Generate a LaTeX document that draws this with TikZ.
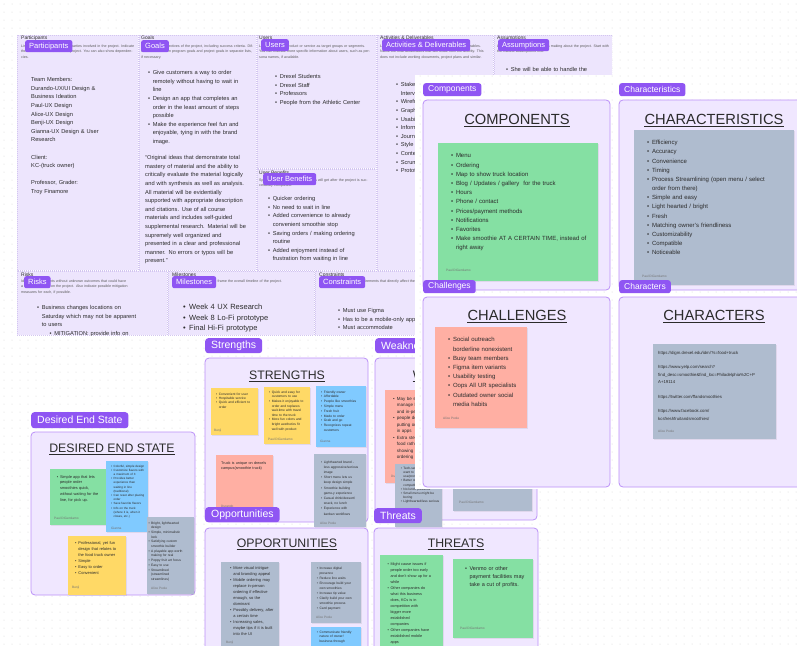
\documentclass[tikz,border=0pt]{standalone}
\usepackage{fontspec}
\setmainfont{Liberation Sans}
\usetikzlibrary{shadows}
\definecolor{cellc}{HTML}{EDE5FD}
\definecolor{celll}{HTML}{D3C6F0}
\definecolor{tagc}{HTML}{8F55F3}
\definecolor{frmc}{HTML}{F0E7FF}
\definecolor{frml}{HTML}{BB90F8}
\definecolor{ngreen}{HTML}{85E0A3}
\definecolor{nblue}{HTML}{80CAFF}
\definecolor{nyel}{HTML}{FFD966}
\definecolor{nsal}{HTML}{FFAFA3}
\definecolor{ngray}{HTML}{AFBCCF}
\definecolor{ink}{HTML}{2B2B2B}
\definecolor{dotc}{HTML}{D4D4D4}
% bullet items (\\ ends a paragraph in ragged text, so the indent is a leftskip)
\newcommand{\fitm}{\leftskip=.8em\llap{\hbox to.8em{\textbullet\hfil}}}
\newcommand{\itm}{\par\leftskip=.8em\noindent\llap{\hbox to.8em{\textbullet\hfil}}}
\newcommand{\sitm}{\par\leftskip=3em\noindent\llap{\hbox to.8em{\textbullet\hfil}}}
\begin{document}
\begin{tikzpicture}[x=1pt,y=-1pt,line join=round,
  cell/.style={fill=cellc,draw=celll,line width=.4pt,dash pattern=on 1pt off 1pt},
  tag/.style={fill=tagc,text=white,rounded corners=2pt,anchor=north west,inner xsep=4pt,inner ysep=0pt,minimum height=12pt,font=\fontsize{7.5}{7.5}\selectfont},
  tagm/.style={tag,inner xsep=5pt,minimum height=13pt,rounded corners=2.5pt,font=\fontsize{8.5}{8.5}\selectfont},
  tagl/.style={tag,inner xsep=6pt,minimum height=15pt,rounded corners=3pt,font=\fontsize{10.5}{10.5}\selectfont},
  frame/.style={fill=frmc,draw=frml,line width=.8pt,rounded corners=4pt},
  note/.style={fill=#1,drop shadow={opacity=.15,shadow xshift=.5pt,shadow yshift=-1pt}},
  fs/.style 2 args={font=\fontsize{#1}{#2}\selectfont},
  txt/.style={anchor=base west,inner sep=0pt,text=ink,align=left},
  head/.style={anchor=north west,inner sep=0pt,text=ink,font=\fontsize{5}{5}\selectfont},
  desc/.style={anchor=north west,inner sep=0pt,text=black!65,align=left,font=\fontsize{3.6}{5.5}\selectfont},
  auth/.style={anchor=base west,inner sep=0pt,text=black!55,font=\fontsize{3.2}{3.2}\selectfont},
  title/.style={anchor=base,inner sep=0pt,text=ink,font=\fontsize{12.3}{12.3}\selectfont},
  titleb/.style={title,font=\fontsize{14.7}{14.7}\selectfont},
  ul/.style={draw=ink,line width=.9pt},
  dotrow/.style={draw=dotc,line width=1pt,dash pattern=on 0pt off 8pt,line cap=round}]
\useasboundingbox (0,0) rectangle (797,645);
\fill[white] (0,0) rectangle (797,645);
\foreach \y in {4,12,...,644} \draw[dotrow] (4,\y) -- (797,\y);

% project canvas board
\begin{scope}
\clip (17,35) rectangle (612,335);
\fill[white] (17,35) rectangle (612,335);
\draw[cell] (17,35) rectangle (138,270);
\draw[cell] (139,35) rectangle (256,270);
\draw[cell] (257,35) rectangle (376,168);
\draw[cell] (257,169) rectangle (376,270);
\draw[cell] (377,35) rectangle (493,270);
\draw[cell] (494,35) rectangle (612,270);
\draw[cell] (17,271) rectangle (167,335);
\draw[cell] (168,271) rectangle (314,335);
\draw[cell] (315,271) rectangle (612,335);

\node[head] at (21,35.5) {Participants};
\node[desc,text width=114] at (21,44.2) {List the stakeholders and third parties involved in the project. Indicate their interests and role on the project. You can also show dependencies.};
\node[head] at (141,35.5) {Goals};
\node[desc,text width=112] at (141,44.2) {Write the key objectives of the project, including success criteria. Differentiate between program goals and project goals in separate lists, if necessary.};
\node[head] at (259,35.5) {Users};
\node[desc,text width=113] at (259,44.2) {List users of the product or service as target groups or segments. You can indicate more specific information about users, such as persona names, if available.};
\node[head] at (259,170.5) {User Benefits};
\node[desc,text width=113] at (259,178.2) {Specify the expected benefits users will get after the project is successfully completed.};
\node[head] at (380,35.5) {Activities \& Deliverables};
\node[desc,text width=110] at (380,44.2) {List the main activities of the project, phases and deliverables. Name the final deliverables that will result from the activity. This does not include working documents, project plans and similar.};
\node[head] at (497,35.5) {Assumptions};
\node[desc,text width=112] at (497,44.2) {List the assumptions the team is making about the project. Start with the riskiest assumptions first.};
\node[head] at (21,272.5) {Risks};
\node[desc,text width=108] at (21,279.5) {Identify future events without unknown outcomes that could have a negative impact on the project. Also indicate possible mitigation measures for each, if possible.};
\node[head] at (172,272.5) {Milestones};
\node[desc,text width=110] at (172,279.5) {List the key milestones that frame the overall timeline of the project.};
\node[head] at (319,272.5) {Constraints};
\node[desc,text width=110] at (319,279.5) {List the constraints and requirements that directly affect the project as a whole.};

\node[tag] (tpart) at (25,40) {Participants};
\node[tag] (tgoal) at (141,40) {Goals};
\node[tag] (tuser) at (261,39) {Users};
\node[tag] (tbene) at (263,173) {User Benefits};
\node[tag] (tacti) at (382,39) {Activities \& Deliverables};
\node[tag] (tassu) at (498,39) {Assumptions};
\node[tag] (trisk) at (24,276) {Risks};
\node[tag] (tmile) at (172,276) {Milestones};
\node[tag] (tcons) at (319,276) {Constraints};

\node[txt,fs={5.7}{8.6},text width=110] (ppart) at (31,81.7) {Team Members:\\ Durando-UX/UI Design \&\\ Business Ideation\\ Paul-UX Design\\ Alice-UX Design\\ Benji-UX Design\\ Gianna-UX Design \& User\\ Research\\[8.6pt] Client:\\ KC-(truck owner)\\[8.6pt] Professor, Grader:\\ Troy Finamore};
\node[txt,fs={5.7}{8.6},text width=120] (pgoal) at (148,74.7) {\fitm Give customers a way to order\\ remotely without having to wait in\\ line \itm Design an app that completes an\\ order in the least amount of steps\\ possible \itm Make the experience feel fun and\\ enjoyable, tying in with the brand\\ image.\par};
\node[txt,fs={5.7}{8.6},text width=130] (pquot) at (145,159.7) {``Original ideas that demonstrate total\\ mastery of material and the ability to\\ critically evaluate the material logically\\ and with synthesis as well as analysis.\\ All material will be evidentially\\ supported with appropriate description\\ and citations. Use of all course\\ materials and includes self-guided\\ supplemental research. Material will be\\ supremely well organized and\\ presented in a clear and professional\\ manner. No errors or typos will be\\ present.''};
\node[txt,fs={5.7}{8.6},text width=110] (puser) at (275,78.7) {\fitm Drexel Students \itm Drexel Staff \itm Professors \itm People from the Athletic Center\par};
\node[txt,fs={5.7}{8.6},text width=110] (pbene) at (268,200.7) {\fitm Quicker ordering \itm No need to wait in line \itm Added convenience to already\\ convenient smoothie stop \itm Saving orders / making ordering\\ routine \itm Added enjoyment instead of\\ frustration from waiting in line\par};
\node[txt,fs={5.7}{8.6},text width=110] (pacti) at (396,86.7) {\fitm Stakeholder\\ Interviews \itm Wireframes \itm Graphic design \itm Usability testing \itm Information architecture \itm Journey maps \itm Style guide \itm Content strategy \itm Scrum meetings \itm Prototypes\par};
\node[txt,fs={5.7}{8.6},text width=110] (passu) at (506,71.7) {\fitm She will be able to handle the\par};
\node[txt,fs={5.7}{8.6},text width=125] (prisk) at (37,309.7) {\fitm Business changes locations on\\ Saturday which may not be apparent\\ to users \sitm MITIGATION: provide info on\par};
\node[txt,fs={7.5}{10.7},text width=125] (pmile) at (183,309.3) {\fitm Week 4 UX Research \itm Week 8 Lo-Fi prototype \itm Final Hi-Fi prototype\par};
\node[txt,fs={5.7}{8.6},text width=125] (pcons) at (338,312.7) {\fitm Must use Figma \itm Has to be a mobile-only app \itm Must accommodate\par};
\end{scope}

% SWOT: strengths
\node[tagl] (tstr) at (205,338) {Strengths};
\draw[frame] (205,358) rectangle (368,522);
\node[title] (hstr) at (287,379.4) {STRENGTHS};
\draw[ul] ([yshift=-2pt]hstr.base west) -- ([yshift=-2pt]hstr.base east);
\fill[note=nyel] (211,388) rectangle (258,435);
\node[txt,fs={3.3}{4.4},text width=45] (s1) at (216,395) {\fitm Convenient for user \itm Hospitable service \itm Quick and efficient to\\ order\par};
\node[auth] at (214,431) {Benji};
\fill[note=nyel] (264,387) rectangle (310,444);
\node[txt,fs={3.3}{4.6},text width=45] (s2) at (269,393.3) {\fitm Quick and easy for\\ customers to use \itm Makes it enjoyable to\\ order and replaces\\ wait-time with travel\\ time to the truck \itm More fun colors and\\ bright aesthetics fit\\ well with product\par};
\node[auth] at (268,440) {Paul DiGerolamo};
\fill[note=nblue] (316,386) rectangle (366,447);
\node[txt,fs={3.3}{4.8},text width=48] (s3) at (321,393) {\fitm Friendly owner \itm Affordable \itm People like smoothies \itm Simple menu \itm Fresh fruit \itm Made to order \itm Grab and go \itm Recognizes repeat\\ customers\par};
\node[auth] at (320,442) {Gianna};
\fill[note=nsal] (216,455) rectangle (273,518);
\node[txt,fs={3.8}{5.2},text width=60] (s4) at (221,464.2) {Truck is unique on drexels\\ campus(smoothie truck)};
\node[auth] at (221,507) {Durando};
\fill[note=ngray] (314,454) rectangle (366,527);
\node[txt,fs={3.3}{5.2},text width=50] (s5) at (321,463) {\fitm Lighthearted brand -\\ less aggressive/serious\\ image \itm Short menu lets us\\ keep design simple \itm Smoothie building\\ game-y experience \itm Casual drink/dessert/\\ snack, no lunch \itm Experience with\\ kanban workflows\par};
\node[auth] at (320,524.5) {Alice Poole};

% weaknesses
\node[tagl] (twea) at (375,338) {Weaknesses};
\draw[frame] (375,358) rectangle (537,520);
\node[title] (hwea) at (456,379.4) {WEAKNESSES};
\draw[ul] ([yshift=-2pt]hwea.base west) -- ([yshift=-2pt]hwea.base east);
\fill[note=nsal] (385,390) rectangle (470,483);
\node[txt,fs={4.5}{6.5},text width=80] (w1) at (393,400.4) {\fitm May be stressful to\\ manage both online\\ and in-person orders \itm people don't like\\ putting orders\\ in apps \itm Extra steps to order\\ food rather than\\ showing up and\\ ordering\par};
\node[auth] at (391,477) {Durando};
\fill[note=ngray] (395,464) rectangle (442,527);
\node[txt,fs={3.2}{4.2},text width=50] (w2) at (400.7,469.3) {\fitm Tech-savvy users\\ want to\\ use/promote \itm Better storefront\\ competition \itm No lunch presence \itm Small menu might be\\ boring \itm Lighthearted/less serious\par};
\fill[note=ngray] (453,465) rectangle (532,511);
\node[auth] at (459,503) {Paul DiGerolamo};

% component panels
\fill[white] (415,75) rectangle (797,489);
\begin{scope}
\clip (415,75) rectangle (797,489);
\foreach \y in {4,12,...,644} \draw[dotrow] (4,\y) -- (797,\y);
\end{scope}
\node[tagm] (tcomp) at (423,83) {Components};
\draw[frame] (423,100) rectangle (610,290);
\node[titleb] (hcomp) at (517,124.3) {COMPONENTS};
\draw[ul] ([yshift=-2.5pt]hcomp.base west) -- ([yshift=-2.5pt]hcomp.base east);
\fill[note=ngreen] (438,143) rectangle (598,281);
\node[txt,fs={6}{9.2},text width=150] (pcomp) at (451,157.8) {\fitm Menu \itm Ordering \itm Map to show truck location \itm Blog / Updates / gallery\ \ for the truck \itm Hours \itm Phone / contact \itm Prices/payment methods \itm Notifications \itm Favorites \itm Make smoothie AT A CERTAIN TIME, instead of\\ right away\par};
\node[auth] at (446,271) {Paul DiGerolamo};

\node[tagm] (tchar) at (619,83) {Characteristics};
\draw[frame] (619,100) rectangle (812,290);
\node[titleb] (hchar) at (714,124.3) {CHARACTERISTICS};
\draw[ul] ([yshift=-2.5pt]hchar.base west) -- ([yshift=-2.5pt]hchar.base east);
\fill[note=ngray] (634,130) rectangle (794,285);
\node[txt,fs={6}{9.17},text width=150] (pchar) at (647,144.8) {\fitm Efficiency \itm Accuracy \itm Convenience \itm Timing \itm Process Streamlining (open menu / select\\ order from there) \itm Simple and easy \itm Light hearted / bright \itm Fresh \itm Matching owner's friendliness \itm Customizability \itm Compatible \itm Noticeable\par};
\node[auth] at (642,277) {Paul DiGerolamo};

\node[tagm] (tchal) at (423,280) {Challenges};
\draw[frame] (423,297) rectangle (610,487);
\node[titleb] (hchal) at (517,320.3) {CHALLENGES};
\draw[ul] ([yshift=-2.5pt]hchal.base west) -- ([yshift=-2.5pt]hchal.base east);
\fill[note=nsal] (435,327) rectangle (527,428);
\node[txt,fs={6}{9.2},text width=90] (pchal) at (448,341.8) {\fitm Social outreach\\ borderline nonexistent \itm Busy team members \itm Figma item variants \itm Usability testing \itm Oops All UR specialists \itm Outdated owner social\\ media habits\par};
\node[auth] at (443,419) {Alice Poole};

\node[tagm] (tchrs) at (619,280) {Characters};
\draw[frame] (619,297) rectangle (812,487);
\node[titleb] (hchrs) at (714,320.3) {CHARACTERS};
\draw[ul] ([yshift=-2.5pt]hchrs.base west) -- ([yshift=-2.5pt]hchrs.base east);
\fill[note=ngray] (653,344) rectangle (776,439);
\node[txt,fs={4.3}{7.3},text width=125] (pchrs) at (658,354.3) {https://digm.drexel.edu/idm/?s=food+truck\\[7.3pt] https://www.yelp.com/search?\\ find\_desc=smoothie\&find\_loc=Philadelphia\%2C+P\\ A+19114\\[7.3pt] https://twitter.com/ffandsmoothies\\[7.3pt] https://www.facebook.com/\\ kcsfreshfruitandsmoothies/};
\node[auth] at (658,432) {Alice Poole};

% opportunities
\node[tagl] (topp) at (205,507) {Opportunities};
\draw[frame] (205,528) rectangle (368,655);
\node[title] (hopp) at (287,547.4) {OPPORTUNITIES};
\draw[ul] ([yshift=-2pt]hopp.base west) -- ([yshift=-2pt]hopp.base east);
\fill[note=ngray] (221,562) rectangle (279,655);
\node[txt,fs={4}{6},text width=60] (o1) at (230,569.2) {\fitm More visual intrigue\\ and branding appeal \itm Mobile ordering may\\ replace in-person\\ ordering if effective\\ enough, so the\\ dominant \itm Possibly delivery, after\\ a certain time \itm Increasing sales,\\ maybe tips if it is built\\ into the UI\par};
\node[auth] at (226,643) {Benji};
\fill[note=ngray] (311,562) rectangle (361,623);
\node[txt,fs={3.3}{5.1},text width=50] (o2) at (316.7,569) {\fitm Increase digital\\ presence \itm Reduce line waits \itm Encourage build your\\ own smoothies \itm Increase tip value \itm Clarify build your own\\ smoothie process \itm Card payment\par};
\node[auth] at (316,618) {Alice Poole};
\fill[note=nblue] (311,627) rectangle (361,655);
\node[txt,fs={3.3}{4.7},text width=50] (o3) at (316.7,633) {\fitm Communicate friendly\\ nature of owner/\\ business through\par};

% threats
\node[tagl] (tthr) at (374,508) {Threats};
\draw[frame] (374,528) rectangle (538,655);
\node[title] (hthr) at (456,547.4) {THREATS};
\draw[ul] ([yshift=-2pt]hthr.base west) -- ([yshift=-2pt]hthr.base east);
\fill[note=ngreen] (380,555) rectangle (443,655);
\node[txt,fs={3.8}{6},text width=62] (h1) at (387.3,565.1) {\fitm Might cause issues if\\ people order too early\\ and don't show up for a\\ while \itm Other companies do\\ what this business\\ does, KCs is in\\ competition with\\ bigger more\\ established\\ companies \itm Other companies have\\ established mobile\\ apps\par};
\fill[note=ngreen] (453,559) rectangle (533,638);
\node[txt,fs={5.5}{8},text width=75] (h2) at (465,570.6) {\fitm Venmo or other\\ payment facilities may\\ take a cut of profits.\par};
\node[auth] at (460,629) {Paul DiGerolamo};

% desired end state
\node[tagl,minimum height=16pt] (tdes) at (31,412) {Desired End State};
\draw[frame] (31,432) rectangle (195,595);
\node[title] (hdes) at (112,452.4) {DESIRED END STATE};
\draw[ul] ([yshift=-2pt]hdes.base west) -- ([yshift=-2pt]hdes.base east);
\fill[note=ngreen] (50,469) rectangle (107,525);
\node[txt,fs={3.9}{5.7},text width=55] (d1) at (56.7,478.2) {\fitm Simple app that lets\\ people order\\ smoothies quick,\\ without waiting for the\\ line, for pick up.\par};
\node[auth] at (54,519) {Paul DiGerolamo};
\fill[note=nblue] (106,461) rectangle (148,532);
\node[txt,fs={3}{4.2},text width=42] (d2) at (111,467) {\fitm Colorful, simple design \itm Customize flavors with\\ a maximum of 3 \itm Provides better\\ experience than\\ waiting in line\\ (traditional) \itm Can reset after placing\\ order \itm Save favorite flavors \itm Info on the truck\\ (where it is, when it\\ closes, etc.)\par};
\node[auth] at (111,529) {Gianna};
\fill[note=nyel] (68,536) rectangle (126,595);
\node[txt,fs={4}{6},text width=58] (d3) at (75,544.2) {\fitm Professional, yet fun\\ design that relates to\\ the food truck owner \itm Simple \itm Easy to order \itm Convenient\par};
\node[auth] at (72,588) {Benji};
\fill[note=ngray] (147,517) rectangle (194,594);
\node[txt,fs={3.3}{4.7},text width=47] (d4) at (148.3,524) {\fitm Bright, lighthearted\\ design \itm Simple, minimalistic\\ look \itm Satisfying custom\\ smoothie builder \itm A playable app worth\\ making for real \itm Poppy fruit art focus \itm Easy to use \itm Streamlined\\ (streamlined\\ streamlines)\par};
\node[auth] at (151,589) {Alice Poole};
\end{tikzpicture}
\end{document}
